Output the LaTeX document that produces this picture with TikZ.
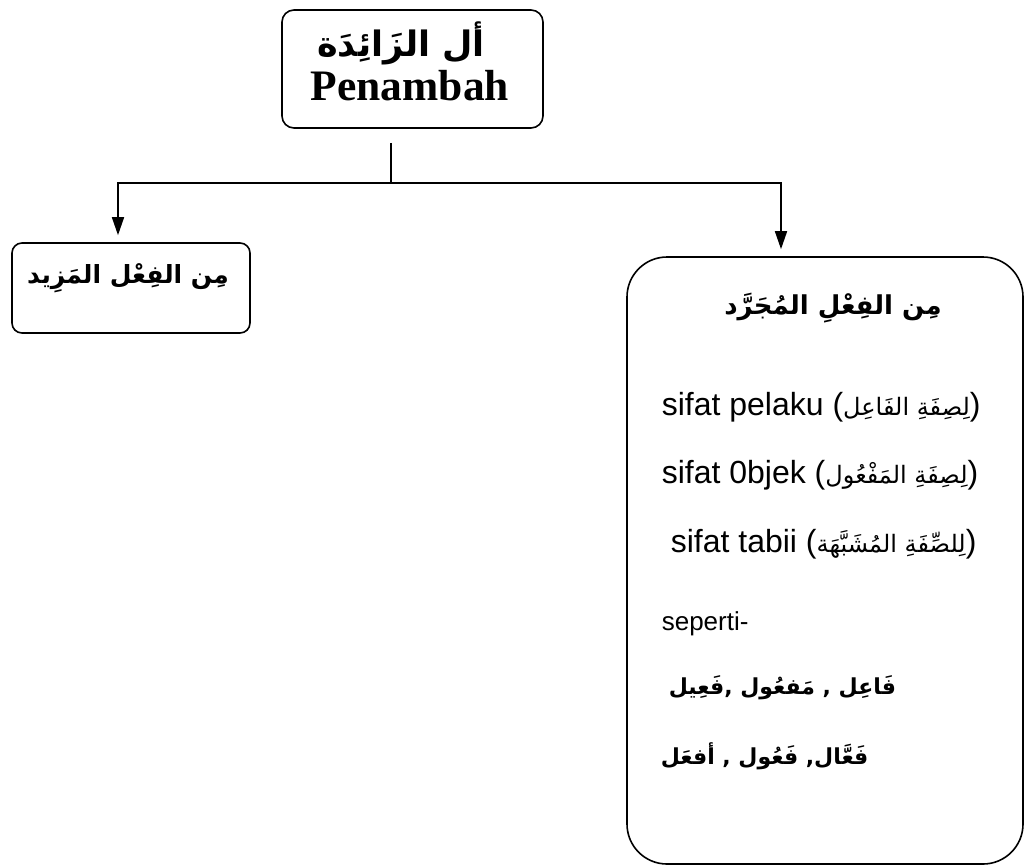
\documentclass[tikz,border=0pt]{standalone}
\usepackage{fontspec}
\setmainfont{Liberation Sans}
\newfontfamily\timesfont{Liberation Serif}
\newfontfamily\arabicfont[Script=Arabic]{DejaVu Sans}
\TeXXeTstate=1
\usetikzlibrary{arrows.meta}

\newcommand\artext[1]{{\arabicfont\fontsize{24}{30}\selectfont\beginR #1\endR}}

\begin{document}
\begin{tikzpicture}[x=1pt,y=-1pt,>={Triangle[length=18pt,width=12pt]},line width=1.6pt,box/.style={draw,rounded corners=12pt,inner sep=0pt},ar title/.style={font=\arabicfont\bfseries\fontsize{26}{32}\selectfont,anchor=base,inner sep=0pt},ar line/.style={font=\arabicfont\bfseries\fontsize{22}{28}\selectfont,anchor=base west,inner sep=0pt},line text/.style={font=\fontsize{32}{38}\selectfont,anchor=base west,inner sep=0pt}]

                \useasboundingbox (0,0) rectangle (1025,865);

                \node[box, minimum width=261pt, minimum height=118pt] (1) at (412.5,69) {};
                \node[ar title, font=\arabicfont\bfseries\fontsize{35}{40}\selectfont] (1a) at (401,56) {\beginR أل الزَائِدَة\endR};
                \node[font=\timesfont\bfseries\fontsize{43.5}{50}\selectfont, anchor=base, inner sep=0pt] (1b) at (410,100) {Penambah};

                \node[box, minimum width=238pt, minimum height=90pt, rounded corners=10pt] (2) at (131,288) {};
                \node[ar title, font=\arabicfont\bfseries\fontsize{25}{30}\selectfont] (2a) at (128,283) {\beginR مِن الفِعْل المَزِيد\endR};

                \node[box, minimum width=396pt, minimum height=607pt, rounded corners=40pt] (3) at (825,560.5) {};
                \node[ar title] (3a) at (833,314) {\beginR مِن الفِعْلِ المُجَرَّد\endR};
                \node[line text] (3b) at (661,415) {sifat pelaku (\artext{لِصِفَةِ الفَاعِل})};
                \node[line text] (3c) at (661,483) {sifat 0bjek (\artext{لِصِفَةِ المَفْعُول})};
                \node[line text] (3d) at (670,552) {sifat tabii (\artext{لِلصِّفَةِ المُشَبَّهَة})};
                \node[line text, font=\fontsize{26}{30}\selectfont] (3e) at (661,630) {seperti-};
                \node[ar line] (3f) at (668,694) {\beginR فَاعِل , مَفعُول ,فَعِيل\endR};
                \node[ar line] (3g) at (660,764) {\beginR فَعَّال, فَعُول , أفعَل\endR};

                \coordinate (s) at ([xshift=-21.5pt,yshift=-14pt]1.south);
                \coordinate (j) at (391,183);

                \draw[-] (s) -- (j);
                \draw[->, shorten >=7pt] (j) -| ([xshift=-13pt]2.north);
                \draw[->, shorten >=7pt] (j) -| ([xshift=-44pt]3.north);

                ;
            \end{tikzpicture}
\end{document}
